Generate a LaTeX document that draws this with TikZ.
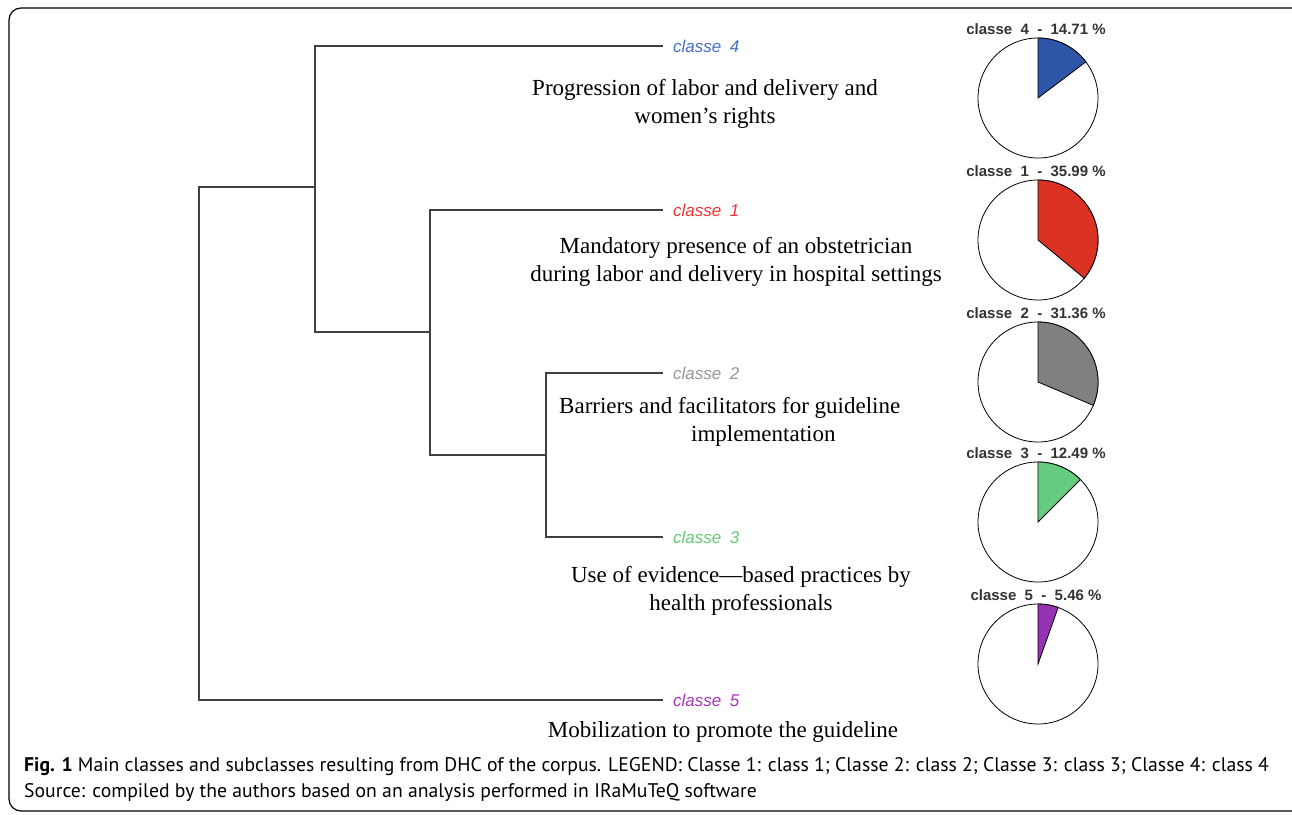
\documentclass[tikz,border=0pt]{standalone}
\usepackage{fontspec}
\setmainfont{Liberation Serif}
\setsansfont{Liberation Sans}
\newfontfamily\capfont{PT Sans}
\usetikzlibrary{positioning}

\definecolor{pieblue}{RGB}{46,86,166}
\definecolor{piered}{RGB}{220,50,35}
\definecolor{piegray}{RGB}{128,128,128}
\definecolor{piegreen}{RGB}{102,204,128}
\definecolor{piepurple}{RGB}{150,50,180}
\definecolor{leafblue}{RGB}{70,110,200}
\definecolor{leafred}{RGB}{240,50,50}
\definecolor{leafgray}{RGB}{150,150,150}
\definecolor{leafgreen}{RGB}{100,200,120}
\definecolor{leafpurple}{RGB}{170,50,190}

\begin{document}
\begin{tikzpicture}[x=1pt,y=1pt,
  branch/.style={draw=black!75, line width=1.2pt},
  leaf/.style={font=\sffamily\itshape\fontsize{17}{17}\selectfont, anchor=west, inner xsep=10pt, inner ysep=0pt},
  desc/.style={font=\fontsize{23}{28}\selectfont, align=center, inner sep=0pt},
  pielabel/.style={font=\sffamily\bfseries\fontsize{15}{15}\selectfont, text=black!80, inner sep=0pt},
  pie/.style={circle, draw, line width=0.8pt, fill=white, minimum size=120pt, inner sep=0pt}]
\useasboundingbox (0,0) rectangle (1292,-814);
% Frame
\draw[line width=1.2pt, rounded corners=12pt] (9,-8) rectangle (1310,-811);
% Leaves
\node[leaf, text=leafblue] (c4) at (663,-46) {classe\enspace 4};
\node[leaf, text=leafred] (c1) at (663,-210) {classe\enspace 1};
\node[leaf, text=leafgray] (c2) at (663,-373) {classe\enspace 2};
\node[leaf, text=leafgreen] (c3) at (663,-537) {classe\enspace 3};
\node[leaf, text=leafpurple] (c5) at (663,-700) {classe\enspace 5};
% Junctions
\coordinate (dD) at (546,-455);
\coordinate (dC) at (430,-332);
\coordinate (dB) at (315,-187);
\coordinate (dA) at (199,-443);
% Dendrogram
\draw[branch] (c2.west) -| (dD) |- (c3.west);
\draw[branch] (c1.west) -| (dC) |- (dD);
\draw[branch] (c4.west) -| (dB) |- (dC);
\draw[branch] (dB) -| (dA) |- (c5.west);
% Descriptions
\node[desc] (d4) at (705,-104) {Progression of labor and delivery and\\women's rights};
\node[desc] (d1) at (736,-262) {Mandatory presence of an obstetrician\\during labor and delivery in hospital settings};
\node[desc, align=left, anchor=west] (d2) at (559,-422) {Barriers and facilitators for guideline\\\hspace*{132pt}implementation};
\node[desc] (d3) at (741,-591) {Use of evidence---based practices by\\health professionals};
\node[desc] (d5) at (723,-732) {Mobilization to promote the guideline};
% Pies
\foreach \k/\p/\cy/\col in {4/14.71/98/pieblue, 1/35.99/240/piered, 2/31.36/382/piegray, 3/12.49/522/piegreen, 5/5.46/664/piepurple} {
  \node[pielabel] (lab\k) at (1036,{69-\cy}) {classe\ \ \k\ \ -\ \ \p\ \%};
  \node[pie] (pie\k) at (1038,-\cy) {};
  \draw[fill=\col, line width=0.8pt] (pie\k.center) -- ++(90:60) arc[start angle=90, end angle={90-3.6*\p}, radius=60] -- cycle;
}
% Caption
\node[font=\capfont\fontsize{19.7}{26}\selectfont, anchor=north west, align=left, inner sep=0pt] (cap) at (24,-757)
  {\textbf{Fig. 1} Main classes and subclasses resulting from DHC of the corpus. LEGEND: Classe 1: class 1; Classe 2: class 2; Classe 3: class 3; Classe 4: class 4\\
   Source: compiled by the authors based on an analysis performed in IRaMuTeQ software};
\end{tikzpicture}
\end{document}
